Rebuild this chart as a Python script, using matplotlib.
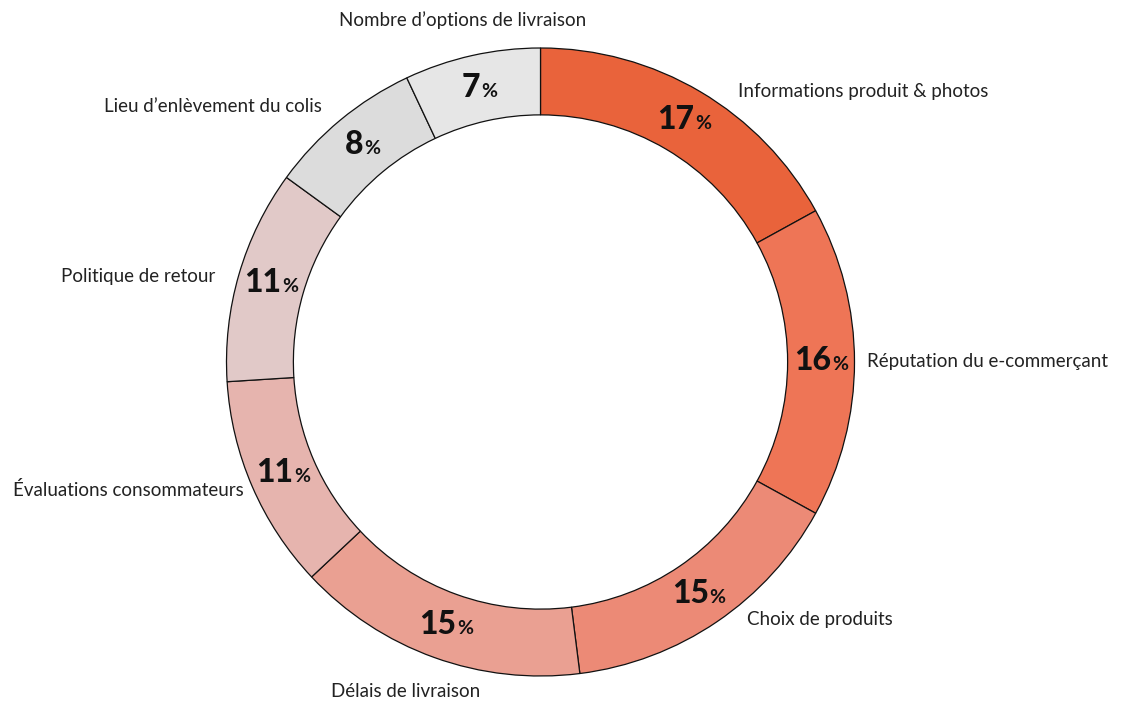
import numpy as np
import matplotlib
matplotlib.use("Agg")
import matplotlib.pyplot as plt

categories = ["Informations produit & photos", "Réputation du e-commerçant", "Choix de produits",
              "Délais de livraison", "Évaluations consommateurs", "Politique de retour",
              "Lieu d\u2019enlèvement du colis", "Nombre d\u2019options de livraison"]
values = [17, 16, 15, 15, 11, 11, 8, 7]
colors = ["#E9633B", "#EE7556", "#EC8A76", "#EAA092", "#E6B4AE", "#E1C9C8", "#DCDCDC", "#E6E6E6"]

FONT = ["Lato", "DejaVu Sans"]
W, H, DPI = 1122, 702, 100
fig = plt.figure(figsize=(W / DPI, H / DPI), dpi=DPI)
ax = fig.add_axes([0, 0, 1, 1])
R = 314.0
cx, cy = 540.5, 362.0
ax.axis("off")

width = 0.213
wedges, _ = ax.pie(values, startangle=90, counterclock=False, radius=1.0,
                   colors=colors, wedgeprops=dict(width=width, edgecolor="#111111", linewidth=0.9))
ax.set_aspect("auto")
ax.set_xlim(-cx / R, (W - cx) / R)
ax.set_ylim(-(H - cy) / R, cy / R)

# label tweaks (angle nudge degrees, radius)
nudges = [-5.5, 0, 4.5, -3, 0, 1.5, 1, 0.5]
radii = [1.065, 1.04, 1.05, 1.11, 1.03, 1.07, 1.07, 1.09]

num_texts = []
for w, cat, v, dn, rr in zip(wedges, categories, values, nudges, radii):
    mid = np.deg2rad((w.theta1 + w.theta2) / 2)
    rp = 1 - width / 2
    px, py = rp * np.cos(mid), rp * np.sin(mid)
    t1 = ax.text(px, py, str(v), fontsize=23, fontweight="black", family=FONT,
                 ha="right", va="baseline", color="#111111")
    t2 = ax.text(px, py, "%", fontsize=14, fontweight="bold", family=FONT,
                 ha="left", va="baseline", color="#111111")
    num_texts.append((t1, t2, px, py))
    ang = mid + np.deg2rad(dn)
    lx, ly = rr * np.cos(ang), rr * np.sin(ang)
    c, s = np.cos(ang), np.sin(ang)
    if abs(c) < 0.45:
        ha = "center"
        va = "bottom" if s > 0 else "top"
    else:
        ha = "left" if c > 0 else "right"
        va = "center"
    ax.text(lx, ly, cat, fontsize=13.5, family=FONT, ha=ha, va=va, color="#222222")

fig.canvas.draw()
r = fig.canvas.get_renderer()
inv = ax.transData.inverted()
for t1, t2, px, py in num_texts:
    b1 = t1.get_window_extent(r)
    b2 = t2.get_window_extent(r)
    total = b1.width + b2.width
    pp = ax.transData.transform((px, py))
    ax_x = pp[0] - total / 2 + b1.width
    ax_y = pp[1] - 8.5
    nx, ny = inv.transform((ax_x, ax_y))
    t1.set_position((nx, ny))
    nx2, _ = inv.transform((ax_x + 1, ax_y))
    t2.set_position((nx2, ny))

fig.savefig("out.png", dpi=DPI, facecolor="white")
